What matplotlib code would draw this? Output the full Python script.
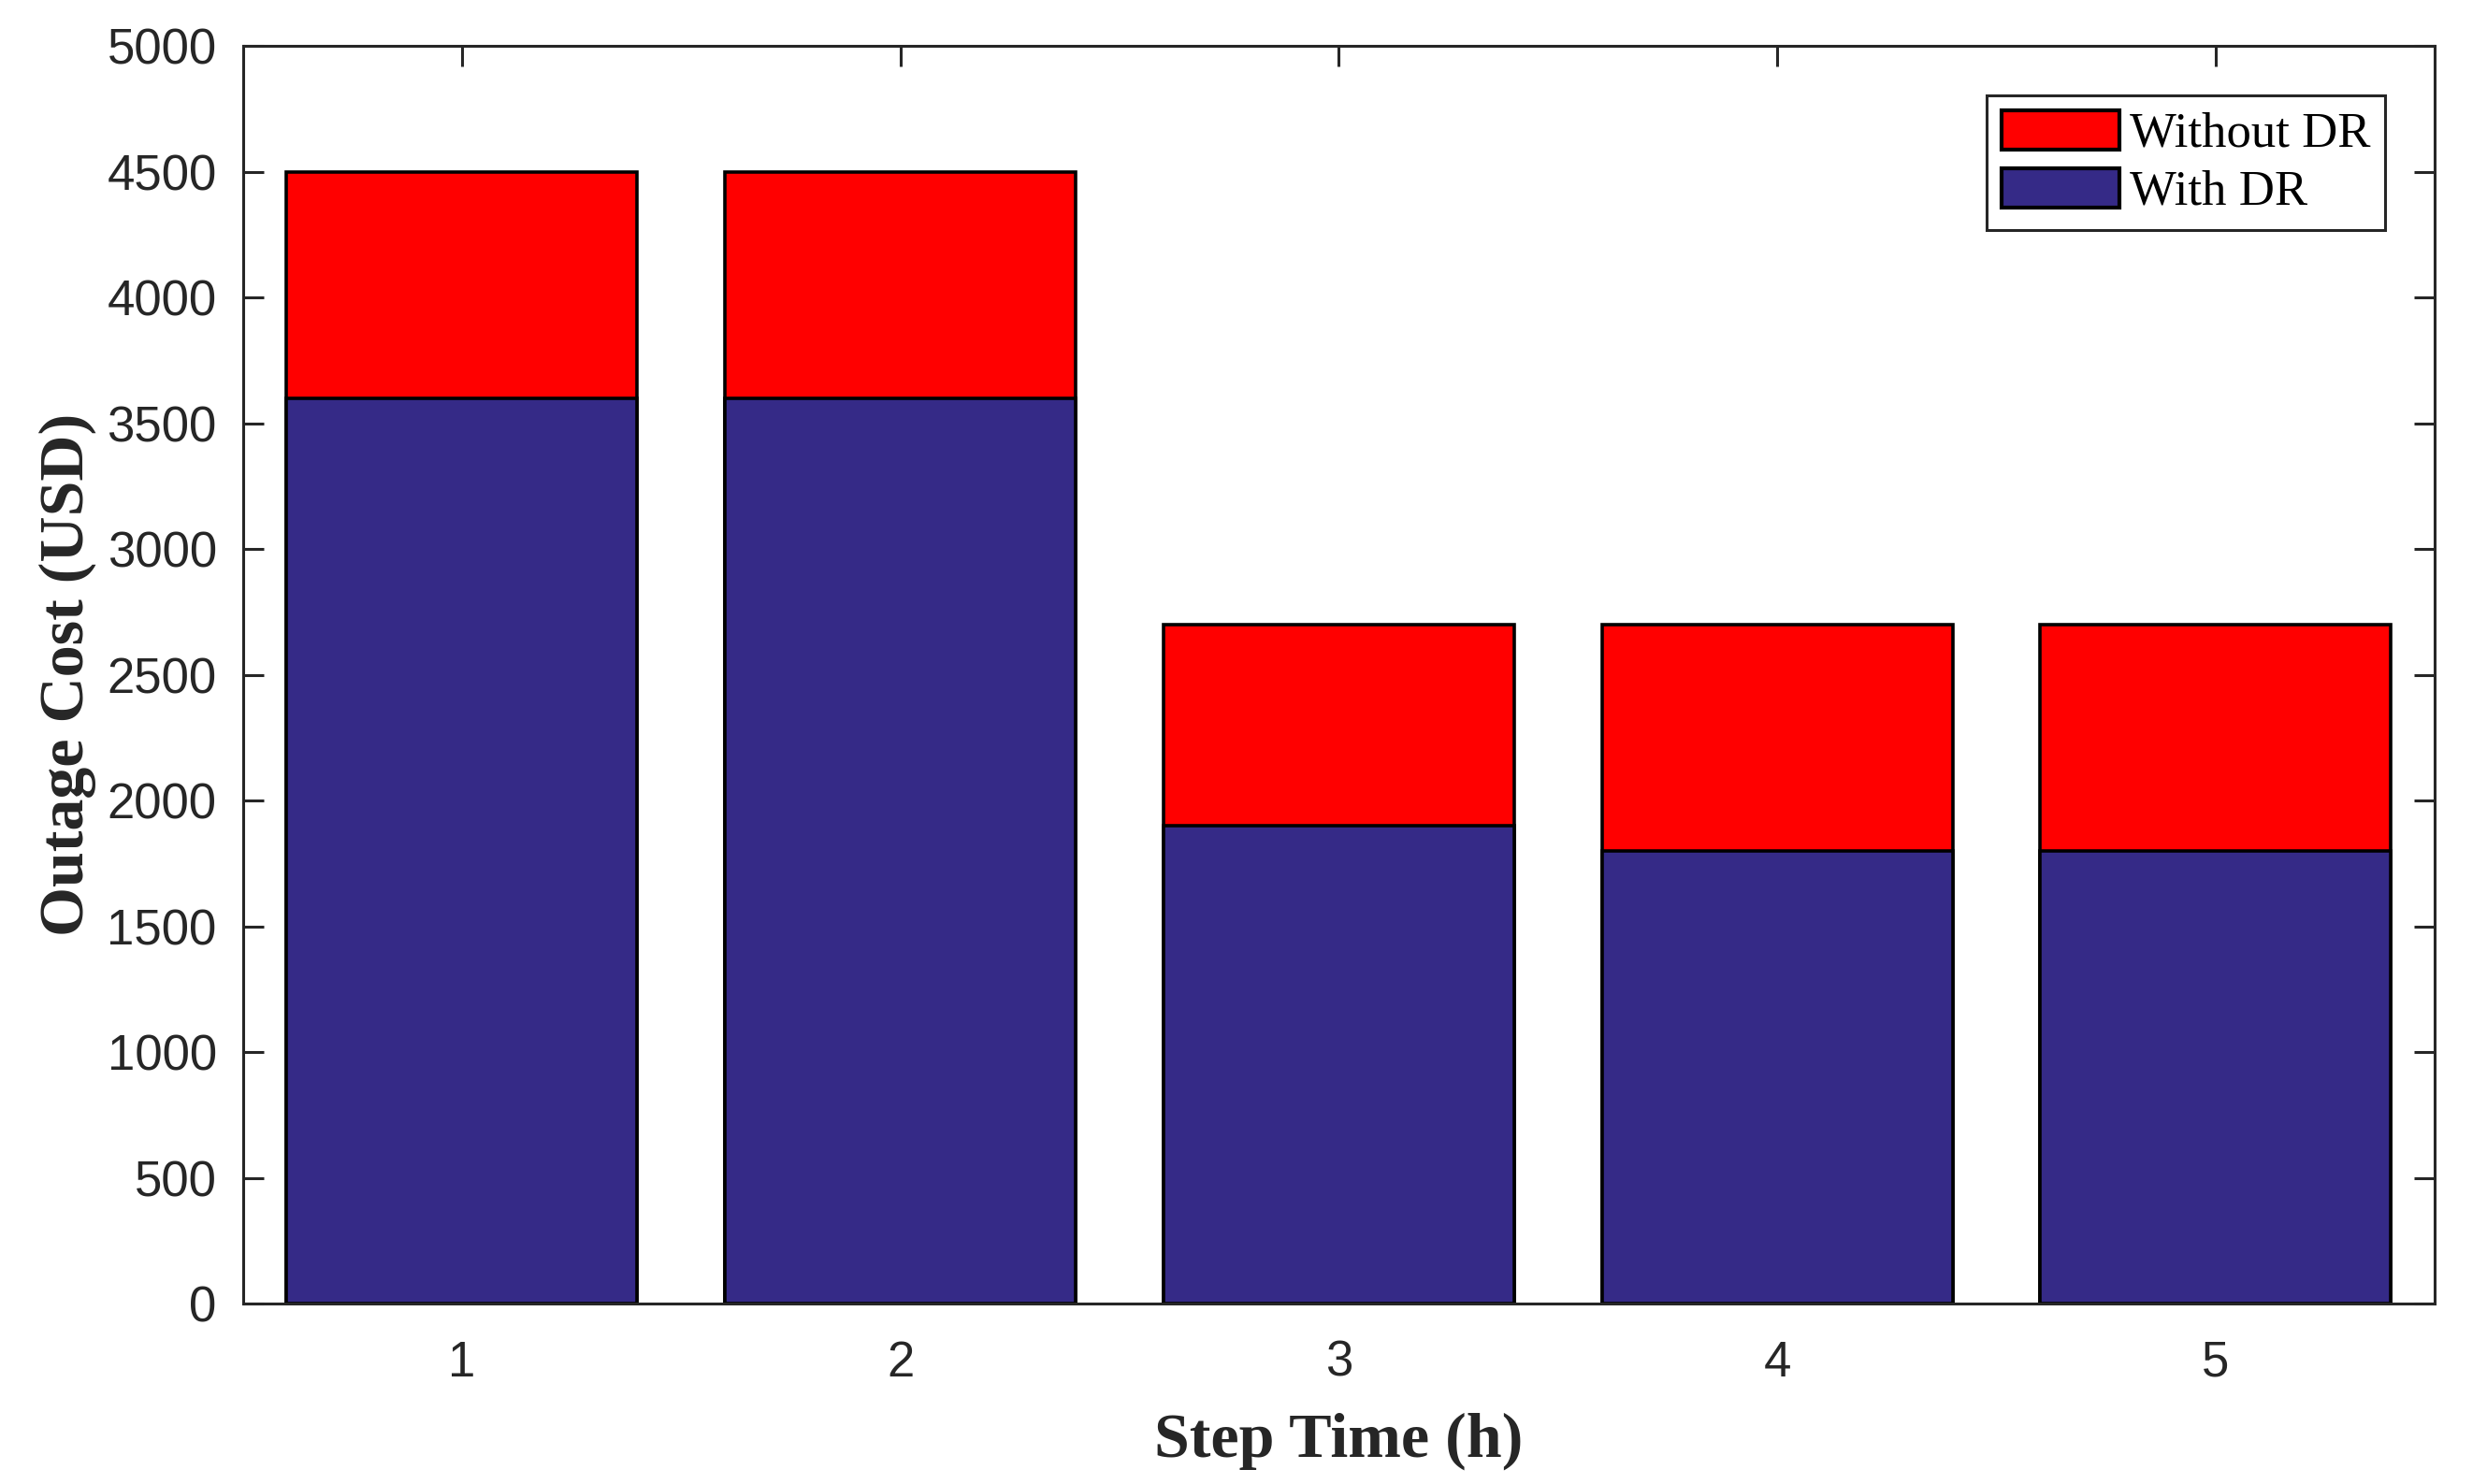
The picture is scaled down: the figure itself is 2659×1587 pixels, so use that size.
import numpy as np
import matplotlib
matplotlib.use("Agg")
import matplotlib.pyplot as plt

# Data
steps = [1, 2, 3, 4, 5]
without_dr = [4500, 4500, 2700, 2700, 2700]
with_dr = [3600, 3600, 1900, 1800, 1800]
yticks = np.arange(0, 5001, 500)

axis_col = "#262626"
red = "#ff0000"
navy = "#352a87"

fig = plt.figure(figsize=(13.295, 7.935), dpi=200)
ax = fig.add_axes([0.0976, 0.1216, 0.8814, 0.8475])

# overlapping bars, "with DR" drawn on top
ax.bar(steps, without_dr, width=0.8, color=red, edgecolor="black", linewidth=1.3, label="Without DR", zorder=2)
ax.bar(steps, with_dr, width=0.8, color=navy, edgecolor="black", linewidth=1.3, label="With DR", zorder=3)

ax.set_xlim(0.5, 5.5)
ax.set_ylim(0, 5000)
ax.set_xticks(steps)
ax.set_yticks(yticks)

for s in ax.spines.values():
    s.set_color(axis_col)
    s.set_linewidth(1.1)
    s.set_zorder(4)
ax.tick_params(direction="in", length=8, width=1.1, color=axis_col, labelcolor=axis_col,
               labelsize=19, top=True, right=True, pad=10,
               labelfontfamily="Liberation Sans")
ax.tick_params(axis="x", pad=14)

ax.set_xlabel("Step Time (h)", fontsize=24.5, fontweight="bold", family="Liberation Serif",
              color=axis_col, labelpad=10)
ax.set_ylabel("Outage Cost (USD)", fontsize=24.5, fontweight="bold", family="Liberation Serif",
              color=axis_col, labelpad=4)

leg = ax.legend(loc="upper right", prop={"family": "Liberation Serif", "size": 19},
                fancybox=False, edgecolor=axis_col, framealpha=1,
                handlelength=2.4, handleheight=0.85, borderaxespad=1.0,
                labelspacing=0.22, handletextpad=0.2, borderpad=0.3)
leg.get_frame().set_linewidth(1.1)
for h in leg.legend_handles:
    h.set_linewidth(1.5)

fig.savefig("out.png", dpi=200)
